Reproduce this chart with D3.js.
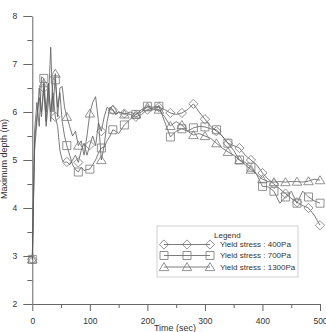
<!DOCTYPE html>
<html>
<head>
<meta charset="utf-8">
<script src="https://cdn.jsdelivr.net/npm/d3@7"></script>
<style>
  html, body { margin: 0; padding: 0; background: #fff; }
  svg { display: block; }
</style>
</head>
<body>
<svg id="chart" width="326" height="332"></svg>
<script>
// ─── Data ────────────────────────────────────────────────────────────────────

const times = [
  0, 4, 8, 12, 16, 20, 24, 28, 32, 36, 40, 44, 48, 52, 56, 60,
  65, 70, 75, 80, 85, 90, 95, 100, 105, 110, 115, 120, 125, 130, 135, 140, 145, 150,
  160, 170, 180, 190, 200, 210, 220, 230, 240, 250, 260, 270, 280, 290, 300,
  310, 320, 330, 340, 350, 360, 370, 380, 390, 400, 410, 420, 430, 440, 450,
  460, 470, 480, 490, 500
];

const depth400 = [
  2.93, 5.4, 5.9, 6.3, 5.9, 6.5, 5.8, 6.6, 6.0, 6.4, 5.9, 5.7, 5.2, 5.0, 4.95, 4.96,
  4.9, 5.0, 5.1, 4.95, 5.2, 5.35, 5.1, 5.31, 5.5, 5.3, 5.77, 5.6, 5.9, 6.1, 6.05, 6.04, 5.95, 6.0,
  5.97, 5.95, 5.9, 5.95, 6.05, 6.08, 6.1, 6.05, 5.98, 5.95, 5.98, 6.05, 6.17, 6.0, 5.85,
  5.7, 5.6, 5.5, 5.35, 5.3, 5.25, 5.1, 5.0, 4.9, 4.73, 4.6, 4.5, 4.4, 4.3, 4.2,
  4.12, 4.05, 4.0, 3.85, 3.64
];

const depth700 = [
  2.93, 5.6, 6.2, 5.7, 6.73, 6.7, 6.0, 6.6, 5.8, 6.7, 6.67, 6.1, 6.4, 5.8, 5.5, 5.3,
  5.1, 4.9, 4.8, 4.75, 4.85, 4.78, 4.8, 4.81, 4.9, 5.0, 5.15, 5.25, 5.27, 5.4, 5.5, 5.63, 5.6, 5.55,
  5.73, 5.85, 5.95, 6.0, 6.12, 6.1, 6.12, 5.8, 5.48, 5.6, 5.65, 5.6, 5.67, 5.7, 5.69,
  5.65, 5.63, 5.5, 5.35, 5.2, 5.0, 4.95, 4.85, 4.7, 4.45, 4.44, 4.35, 4.1, 4.23, 4.35,
  4.1, 4.35, 4.23, 4.15, 4.1
];

const depth1300 = [
  2.93, 5.2, 5.8, 6.5, 6.0, 6.6, 5.7, 6.2, 7.35, 6.0, 6.8, 5.9, 6.5, 6.53, 6.1, 5.9,
  5.7, 5.5, 5.6, 5.3, 5.4, 5.1, 5.5, 5.97, 6.2, 6.32, 5.8, 5.0, 5.3, 5.8, 6.1, 6.05, 5.95, 6.0,
  5.95, 6.0, 5.95, 6.05, 6.1, 6.05, 6.05, 5.9, 5.71, 5.8, 5.73, 5.6, 5.52, 5.55, 5.5,
  5.45, 5.35, 5.25, 5.17, 5.1, 5.0, 4.9, 4.8, 4.7, 4.6, 4.55, 4.54, 4.55, 4.54, 4.55,
  4.55, 4.54, 4.56, 4.6, 4.58
];

const seriesNames = ['Yield stress : 400Pa', 'Yield stress : 700Pa', 'Yield stress : 1300Pa'];
const seriesShapes = ['diamond', 'square', 'triangle'];
const xTicks = [0, 100, 200, 300, 400, 500];
const yTicks = [2, 3, 4, 5, 6, 7, 8];

// ─── Setup ───────────────────────────────────────────────────────────────────

const theme = {
  line: '#5a5a5a',
  marker: '#777',
  axis: '#666',
  text: '#333',
  font: '"Liberation Sans", Arial, sans-serif',
  fontSize: '8.5px'
};

const svg = d3.select('#chart');
const x = d3.scaleLinear().domain([0, 500]).range([32.3, 320]);
const y = d3.scaleLinear().domain([2, 8]).range([304, 16]);

const series = [depth400, depth700, depth1300].map((vals, i) => ({
  name: seriesNames[i],
  shape: seriesShapes[i],
  values: times.map((t, j) => ({ t, v: vals[j] }))
}));

function markerPath(shape) {
  if (shape === 'diamond') return 'M0,-4.6L4.6,0L0,4.6L-4.6,0Z';
  if (shape === 'square') return 'M-4,-4H4V4H-4Z';
  return 'M0,-4.4L4.8,3.6H-4.8Z';
}

// ─── Axes ────────────────────────────────────────────────────────────────────

function styleAxis(sel) {
  sel.select('.domain').attr('stroke', theme.axis).attr('stroke-width', 1);
  sel.selectAll('line').attr('stroke', theme.axis);
  sel.selectAll('text')
    .attr('fill', theme.text)
    .style('font-family', theme.font)
    .style('font-size', theme.fontSize);
}

// minor ticks first (no labels)
svg.append('g')
  .attr('transform', `translate(0,${y(2)})`)
  .call(d3.axisBottom(x).tickValues(d3.range(50, 500, 100)).tickSize(4).tickFormat(''))
  .call(sel => { sel.select('.domain').remove(); sel.selectAll('line').attr('stroke', theme.axis); });

svg.append('g')
  .attr('transform', `translate(${x(0)},0)`)
  .call(d3.axisLeft(y).tickValues(d3.range(2.5, 8, 1)).tickSize(5).tickFormat(''))
  .call(sel => { sel.select('.domain').remove(); sel.selectAll('line').attr('stroke', theme.axis); });

svg.append('g')
  .attr('transform', `translate(0,${y(2)})`)
  .call(d3.axisBottom(x).tickValues(xTicks).tickSize(7).tickSizeOuter(0).tickPadding(7).tickFormat(d3.format('d')))
  .call(styleAxis);

svg.append('g')
  .attr('transform', `translate(${x(0)},0)`)
  .call(d3.axisLeft(y).tickValues(yTicks).tickSize(9).tickSizeOuter(0).tickPadding(6).tickFormat(d3.format('d')))
  .call(styleAxis);

// axis titles
svg.append('text')
  .attr('x', 175).attr('y', 331)
  .attr('text-anchor', 'middle')
  .attr('fill', theme.text)
  .style('font-family', theme.font)
  .style('font-size', '9px')
  .text('Time (sec)');

svg.append('text')
  .attr('transform', 'translate(7,159) rotate(-90)')
  .attr('text-anchor', 'middle')
  .attr('fill', theme.text)
  .style('font-family', theme.font)
  .style('font-size', '9px')
  .text('Maximum depth (m)');

// ─── Lines & markers ─────────────────────────────────────────────────────────

const lineGen = d3.line().x(d => x(d.t)).y(d => y(d.v));
const plot = svg.append('g');

plot.selectAll('.series-line')
  .data(series)
  .join('path')
  .attr('class', 'series-line')
  .attr('d', s => lineGen(s.values))
  .attr('fill', 'none')
  .attr('stroke', theme.line)
  .attr('stroke-width', 0.8);

series.forEach(s => {
  plot.selectAll(null)
    .data(s.values.filter(d => d.t % 20 === 0))
    .join('path')
    .attr('transform', d => `translate(${x(d.t)},${y(d.v)})`)
    .attr('d', markerPath(s.shape))
    .attr('fill', 'none')
    .attr('stroke', theme.marker)
    .attr('stroke-width', 0.8);
});

// ─── Legend ──────────────────────────────────────────────────────────────────

const legend = svg.append('g');
legend.append('rect')
  .attr('x', 157).attr('y', 226)
  .attr('width', 141).attr('height', 51)
  .attr('fill', '#fff')
  .attr('stroke', '#c4c4c4')
  .attr('stroke-width', 0.8);

legend.append('text')
  .attr('x', 214).attr('y', 238)
  .attr('fill', theme.text)
  .style('font-family', theme.font)
  .style('font-size', '8px')
  .text('Legend');

const rowY = [244.5, 255.5, 267];
const markX = [164, 187, 210];

series.forEach((s, i) => {
  const row = legend.append('g').attr('transform', `translate(0,${rowY[i]})`);
  row.append('line')
    .attr('x1', markX[0]).attr('x2', markX[2])
    .attr('stroke', theme.line).attr('stroke-width', 0.8);
  row.selectAll('path')
    .data(markX)
    .join('path')
    .attr('transform', d => `translate(${d},0)`)
    .attr('d', markerPath(s.shape))
    .attr('fill', 'none')
    .attr('stroke', theme.marker)
    .attr('stroke-width', 0.8);
  row.append('text')
    .attr('x', 220).attr('dy', '0.35em')
    .attr('fill', theme.text)
    .style('font-family', theme.font)
    .style('font-size', '8px')
    .text(s.name);
});
</script>
</body>
</html>
